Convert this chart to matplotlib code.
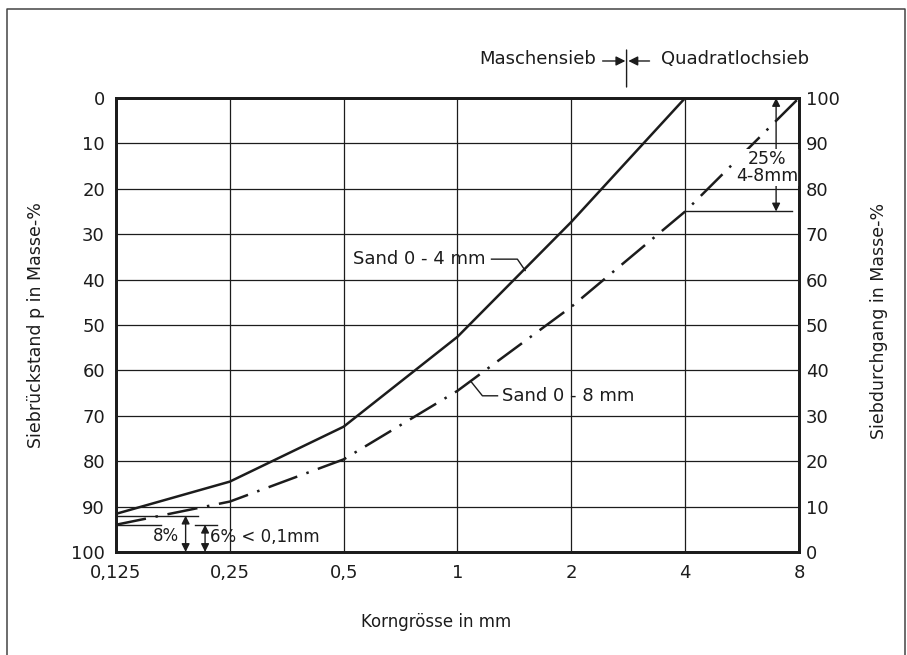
import matplotlib.pyplot as plt
from matplotlib.lines import Line2D

plt.rcParams['font.family'] = ['DejaVu Sans']
plt.rcParams['lines.scale_dashes'] = False

# Korngrösse in mm und Siebrückstand in Masse-%
korn = [0.125, 0.25, 0.5, 1, 2, 4, 8]
korn_labels = ['0,125', '0,25', '0,5', '1', '2', '4', '8']
sand_04 = [91.6, 84.5, 72.4, 52.6, 27.3, 0, 0]
sand_08 = [94.0, 88.9, 79.6, 64.5, 46.0, 25.0, 0]
y_ticks = list(range(0, 101, 10))

ink = '#1c1c1c'

fig = plt.figure(figsize=(9.07, 6.55), dpi=100)
ax = fig.add_axes([0.1279, 0.1573, 0.7530, 0.6931])

ax.plot(korn, sand_04, color=ink, lw=1.8, solid_joinstyle='miter')
ax.plot(korn, sand_08, color=ink, lw=1.8, linestyle=(0, (22, 7, 1.8, 7)))

ax.set_xscale('log', base=2)
ax.set_xlim(0.125, 8)
ax.set_ylim(100, 0)
ax.set_xticks(korn)
ax.set_xticklabels(korn_labels)
ax.minorticks_off()
ax.set_yticks(y_ticks)
ax.grid(True, color=ink, lw=0.9)
ax.tick_params(length=0, labelsize=13, colors=ink)
ax.tick_params(axis='x', pad=9)
ax.tick_params(axis='y', pad=8)
for s in ax.spines.values():
    s.set_linewidth(2)
    s.set_color(ink)

ax2 = ax.twinx()
ax2.set_ylim(0, 100)
ax2.set_yticks(y_ticks)
ax2.tick_params(length=0, labelsize=13, colors=ink, pad=5)
for s in ax2.spines.values():
    s.set_linewidth(2)
    s.set_color(ink)

ax.set_xlabel('Korngrösse in mm', fontsize=12, color=ink)
ax.xaxis.set_label_coords(0.4685, -0.134)
ax.set_ylabel('Siebrückstand p in Masse-%', fontsize=12.5, color=ink)
ax.yaxis.set_label_coords(-0.104, 0.5)
ax2.set_ylabel('Siebdurchgang in Masse-%', fontsize=12.5, color=ink)
ax2.yaxis.set_label_coords(1.104, 0.51)

# curve labels with leader lines
ax.text(1.186, 35.5, 'Sand 0 - 4 mm', fontsize=13, ha='right', va='center', color=ink)
ax.plot([1.23, 1.44, 1.51], [35.5, 35.5, 38.0], color=ink, lw=1)
ax.text(1.315, 65.6, 'Sand 0 - 8 mm', fontsize=13, ha='left', va='center', color=ink)
ax.plot([1.276, 1.164, 1.089], [65.6, 65.6, 62.6], color=ink, lw=1)

# lower left annotations
arr = dict(arrowstyle='<|-|>', color=ink, lw=1, mutation_scale=12, shrinkA=0, shrinkB=0)
ax.plot([0.125, 0.206], [92, 92], color=ink, lw=1)
ax.annotate('', xy=(0.191, 92), xytext=(0.191, 100), arrowprops=arr)
ax.text(0.183, 96.4, '8%', fontsize=12, ha='right', va='center', color=ink)
ax.plot([0.125, 0.164], [94, 94], color=ink, lw=1)
ax.plot([0.2025, 0.2317], [94, 94], color=ink, lw=1)
ax.annotate('', xy=(0.215, 94), xytext=(0.215, 100), arrowprops=arr)
ax.text(0.221, 96.6, '6% < 0,1mm', fontsize=12, ha='left', va='center', color=ink)

# upper right annotation
ax.plot([4, 7.67], [25, 25], color=ink, lw=1)
ax.annotate('', xy=(6.96, 0), xytext=(6.96, 25), arrowprops=arr)
ax.text(6.6, 15.3, '25%\n4-8mm', fontsize=12.5, ha='center', va='center',
        linespacing=0.95, color=ink,
        bbox=dict(facecolor='white', edgecolor='none', pad=0.5))

# Maschensieb / Quadratlochsieb
tf = ('data', 'axes fraction')
ax.annotate('', xy=(2.8, 1.1057), xytext=(2.8, 1.0242), xycoords=tf, textcoords=tf,
            arrowprops=dict(arrowstyle='-', color=ink, lw=1, shrinkA=0, shrinkB=0),
            annotation_clip=False)
harr = dict(arrowstyle='-|>', color=ink, lw=1, mutation_scale=14, shrinkA=0, shrinkB=0)
ax.annotate('', xy=(2.78, 1.0815), xytext=(2.42, 1.0815), xycoords=tf, textcoords=tf,
            arrowprops=harr, annotation_clip=False)
ax.annotate('', xy=(2.83, 1.0815), xytext=(3.22, 1.0815), xycoords=tf, textcoords=tf,
            arrowprops=harr, annotation_clip=False)
ax.annotate('Maschensieb', xy=(2.33, 1.085), xycoords=tf, fontsize=13,
            ha='right', va='center', color=ink, annotation_clip=False)
ax.annotate('Quadratlochsieb', xy=(3.46, 1.085), xycoords=tf, fontsize=13,
            ha='left', va='center', color=ink, annotation_clip=False)

# page frame
fig.add_artist(Line2D([0.0077, 0.0077, 0.9978, 0.9978], [0.0, 0.9863, 0.9863, 0.0],
                      transform=fig.transFigure, color='#444444', lw=1.1))

fig.savefig('out.png', dpi=100)
